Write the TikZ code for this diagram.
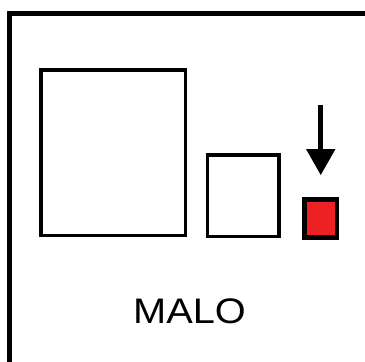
\documentclass[tikz,border=0pt]{standalone}
\usepackage{fontspec}
\setmainfont{Liberation Sans}
\definecolor{boxred}{RGB}{237,32,36}
\begin{document}
\begin{tikzpicture}[x=1pt,y=-1pt,
  box/.style={draw=black,line width=3.5pt,fill=white,inner sep=0pt,outer sep=0pt},
  redbox/.style={draw=black,line width=4.5pt,fill=boxred,inner sep=0pt,outer sep=0pt}]
\useasboundingbox (0,0) rectangle (365,362);
\clip (0,0) rectangle (365,362);
\draw[line width=4.5pt] (9.5,400) -- (9.5,13.5) -- (400,13.5);
\node[box,minimum width=144.5pt,minimum height=165.5pt] (big) at (113.25,152.75) {};
\node[box,minimum width=71.5pt,minimum height=81.5pt] (mid) at (243.25,195.75) {};
\node[redbox,minimum width=32.5pt,minimum height=38pt] (red) at (320.75,218.5) {};
\coordinate (atop) at (320.75,105);
\coordinate (atip) at (320.75,175);
\draw[line width=5pt] (atop) -- ([yshift=25pt]atip);
\fill (306,149) -- (335.5,149) -- (atip) -- cycle;
\node[anchor=base,inner sep=0pt] (label) at (189.5,323) {\scalebox{1.12}[1]{\fontsize{35.5}{40}\selectfont MALO}};
\end{tikzpicture}
\end{document}
